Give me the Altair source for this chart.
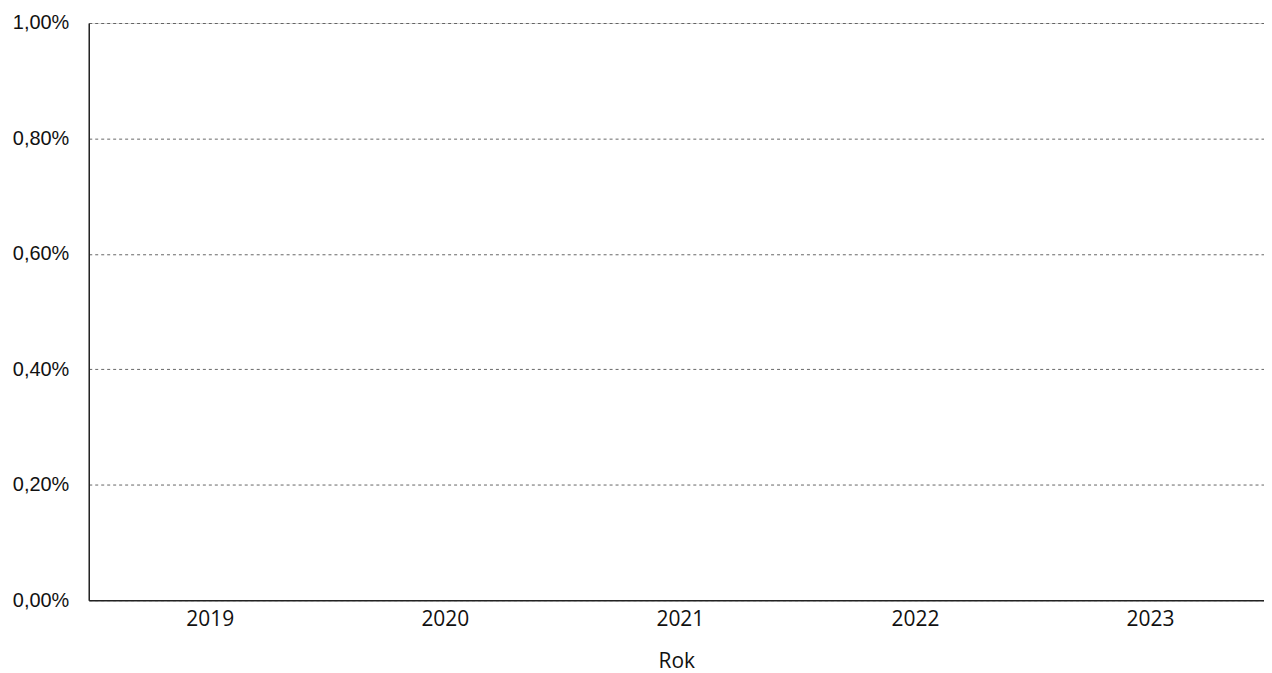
import altair as alt
import pandas as pd

years = ["2019", "2020", "2021", "2022", "2023"]
values = [0.0, 0.0, 0.0, 0.0, 0.0]

df = pd.DataFrame({"Rok": years, "Wartosc": values})

chart = alt.Chart(df).mark_bar(color="#4a4a4a").encode(
    x=alt.X("Rok:N", sort=years, title="Rok",
            scale=alt.Scale(paddingInner=0.2, paddingOuter=0.1),
            axis=alt.Axis(labelAngle=0, ticks=False, domain=True, domainColor="#222",
                          domainWidth=1.5, labelFont="Open Sans", labelFontSize=21,
                          labelColor="#111", labelPadding=8, labelOffset=4,
                          titleFont="Open Sans",
                          titleFontSize=21, titleFontWeight="normal", titleColor="#111",
                          titlePadding=22, grid=False)),
    y=alt.Y("Wartosc:Q", title=None,
            scale=alt.Scale(domain=[0, 0.01], nice=False),
            axis=alt.Axis(values=[0, 0.002, 0.004, 0.006, 0.008, 0.01],
                          labelExpr="replace(format(datum.value, '.2%'), '.', ',')",
                          ticks=False, domain=True, domainColor="#222", domainWidth=1.5,
                          labelFont="Liberation Sans", labelFontSize=20, labelColor="#111",
                          labelPadding=20, grid=True, gridColor="#555", gridDash=[3, 3],
                          gridWidth=0.9)),
).properties(
    width=1179, height=579,
    autosize=alt.AutoSizeParams(type="none"),
    padding={"left": 81, "top": 14, "right": 0, "bottom": 72},
).configure_view(stroke=None).configure(background="white")

chart.save("out.html", embed_options={"renderer": "svg", "actions": False})
